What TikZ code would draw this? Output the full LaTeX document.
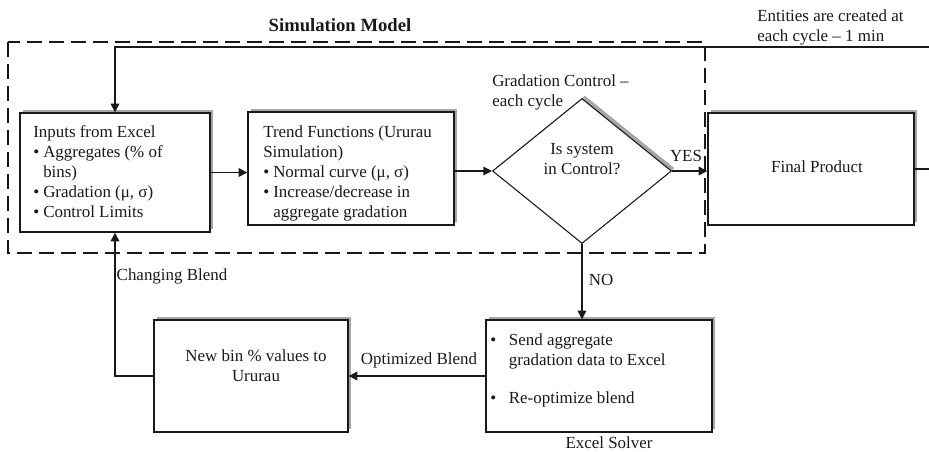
\documentclass[tikz,border=0pt]{standalone}
\usepackage{fontspec}
\setmainfont{Liberation Serif}
\usetikzlibrary{shapes.geometric,arrows.meta,shadows}

% bullet with fixed width and matching hanging indent
\newcommand\bul{\makebox[7.5pt][l]{\textbullet}}
\newcommand\hang{\hspace*{7.5pt}}

\tikzset{
  txt/.style={font=\fontsize{12.7}{15}\selectfont, inner sep=0pt, align=left, text=black!90},
  boxshadow/.style={general shadow={fill=gray!70, draw=none, shadow xshift=2.2pt, shadow yshift=2.2pt}},
  box/.style={rectangle, draw=black!90, line width=1pt, fill=white, inner sep=0pt, boxshadow},
  decision/.style={diamond, draw=black!90, line width=0.8pt, fill=white, inner sep=0pt,
    aspect=1.23, minimum width=134.25pt, minimum height=108.75pt, boxshadow},
  link/.style={draw=black!90, line width=0.8pt, -{Triangle[length=6.5pt,width=6.5pt]}},
  plain/.style={draw=black!90, line width=0.8pt},
  frame/.style={draw=black!90, line width=1.9pt, dash pattern=on 11pt off 5.5pt},
}

\begin{document}
\begin{tikzpicture}[x=0.75pt,y=-0.75pt]
\useasboundingbox (0,0) rectangle (929,451);

% simulation model frame and its title
\draw[frame] (8,42) rectangle (705,253);
\node[txt, font=\bfseries\fontsize{14}{16}\selectfont] (title) at (340,25) {Simulation Model};

% process boxes
\node[box, minimum width=142.5pt, minimum height=89.25pt] (inputs) at (115,172.5) {};
\node[txt, anchor=north west] (inputsT) at (33,125)
  {Inputs from Excel\\ \bul Aggregates (\% of\\ \hang bins)\\ \bul Gradation (μ, σ)\\ \bul Control Limits};

\node[box, minimum width=154.5pt, minimum height=84.75pt] (trend) at (351,168.5) {};
\node[txt, anchor=north west] (trendT) at (263,125)
  {Trend Functions (Ururau\\ Simulation)\\ \bul Normal curve (μ, σ)\\ \bul Increase/decrease in\\ \hang aggregate gradation};

\node[decision] (ctrl) at (582,171) {};
\node[txt, align=center] (ctrlT) at (582,159) {Is system\\in Control?};
\node[txt, anchor=north west] (ctrlL) at (492,74) {Gradation Control –\\each cycle};

\node[box, minimum width=154.5pt, minimum height=84pt] (final) at (811,169) {};
\node[txt] (finalT) at (817,167) {Final Product};

\node[box, minimum width=169.5pt, minimum height=84pt] (solver) at (599,376) {};
\node[txt, anchor=north west] (solverT) at (490,333)
  {\makebox[14pt][l]{\textbullet}Send aggregate\\ \hspace*{14pt}gradation data to Excel\\[13.5pt] \makebox[14pt][l]{\textbullet}Re-optimize blend};
\node[txt] (solverL) at (609,443) {Excel Solver};

\node[box, minimum width=145.5pt, minimum height=84pt] (newbin) at (251,376) {};
\node[txt, align=center] (newbinT) at (256,366) {New bin \% values to\\Ururau};

% note on entity creation
\node[txt, anchor=north west] (entities) at (757,9) {Entities are created at\\each cycle – 1 min};

% connectors
\coordinate (loopIn) at (929,47);
\coordinate (loopOut) at (929,169);
\draw[link] (loopIn) -| (inputs.north);
\draw[plain] (final.east) -- (final.east -| loopOut);
\draw[link] (inputs.east) -- (inputs.east -| trend.west);
\draw[link] (trend.east |- ctrl.west) -- (ctrl.west);
\draw[link] (ctrl.east) -- (final.west |- ctrl.east);
\draw[link] (ctrl.south) -- (ctrl.south |- solver.north);
\draw[link] (solver.west) -- (newbin.east);
\draw[link] (newbin.west) -| (inputs.south);

% connector labels
\node[txt] (yes) at (686,156) {YES};
\node[txt] (no) at (601,280) {NO};
\node[txt] (optimized) at (419,360) {Optimized Blend};
\node[txt] (changing) at (172,276) {Changing Blend};
\end{tikzpicture}
\end{document}
